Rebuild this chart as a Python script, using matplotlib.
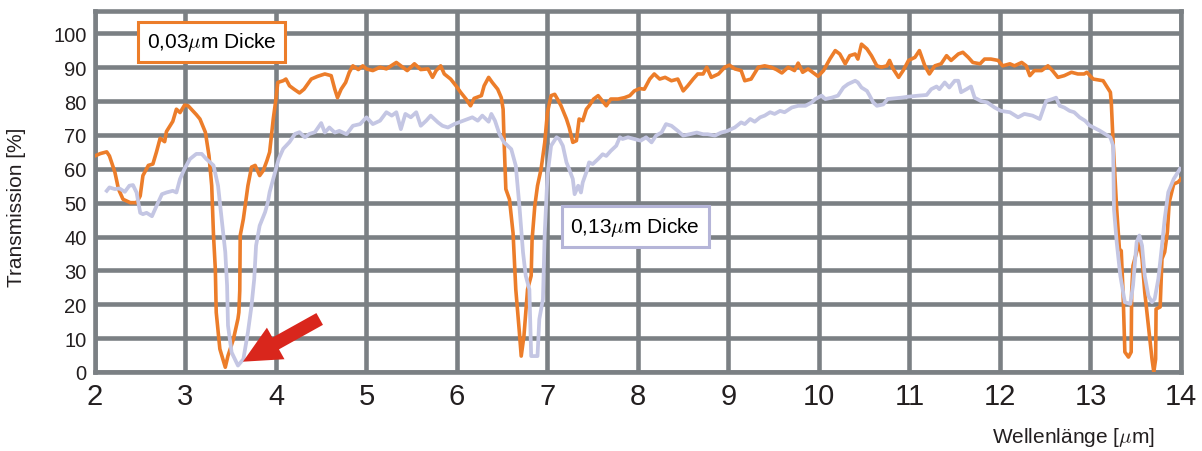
import numpy as np
import matplotlib
matplotlib.use("Agg")
import matplotlib.pyplot as plt
from matplotlib.patches import FancyArrowPatch

plt.rcParams['font.family'] = ['Liberation Sans', 'DejaVu Sans']
plt.rcParams['mathtext.fontset'] = 'cm'

# 0,03 um layer (orange)
wl_thin = [2.00, 2.06, 2.13, 2.16, 2.22, 2.26, 2.31, 2.39, 2.46, 2.50, 2.53, 2.59, 2.64, 2.68, 2.72, 2.77,
           2.79, 2.86, 2.90, 2.94, 2.99, 3.03, 3.12, 3.16, 3.22, 3.26, 3.29, 3.31, 3.33, 3.34, 3.38, 3.44,
           3.47, 3.53, 3.58, 3.59, 3.60, 3.605, 3.64, 3.69, 3.73, 3.77, 3.82, 3.86, 3.90, 3.93, 3.95, 3.97,
           4.00, 4.02, 4.08, 4.11, 4.15, 4.20, 4.26, 4.31, 4.39, 4.46, 4.54, 4.61, 4.65, 4.68, 4.72, 4.77,
           4.81, 4.85, 4.91, 4.96, 5.00, 5.07, 5.15, 5.22, 5.33, 5.38, 5.45, 5.53, 5.60, 5.68, 5.73, 5.77,
           5.82, 5.86, 5.93, 5.99, 6.04, 6.10, 6.15, 6.19, 6.27, 6.30, 6.35, 6.39, 6.45, 6.49, 6.51, 6.52,
           6.54, 6.58, 6.62, 6.65, 6.69, 6.71, 6.74, 6.78, 6.82, 6.83, 6.86, 6.89, 6.93, 6.97, 7.00, 7.04,
           7.08, 7.11, 7.15, 7.21, 7.24, 7.28, 7.32, 7.35, 7.39, 7.43, 7.46, 7.51, 7.56, 7.59, 7.65, 7.70,
           7.78, 7.85, 7.91, 7.96, 8.02, 8.07, 8.13, 8.18, 8.24, 8.30, 8.37, 8.44, 8.50, 8.55, 8.61, 8.66,
           8.72, 8.76, 8.81, 8.89, 8.96, 9.01, 9.07, 9.14, 9.18, 9.25, 9.33, 9.40, 9.47, 9.53, 9.59, 9.66,
           9.73, 9.77, 9.82, 9.88, 9.99, 10.05, 10.12, 10.18, 10.23, 10.29, 10.34, 10.40, 10.43, 10.47, 10.53,
           10.58, 10.64, 10.69, 10.75, 10.78, 10.82, 10.88, 10.93, 10.99, 11.06, 11.11, 11.17, 11.22, 11.28,
           11.35, 11.41, 11.46, 11.54, 11.59, 11.65, 11.70, 11.78, 11.83, 11.90, 11.98, 12.03, 12.11, 12.16,
           12.24, 12.29, 12.33, 12.38, 12.46, 12.53, 12.58, 12.64, 12.71, 12.79, 12.86, 12.93, 12.96, 13.03,
           13.14, 13.22, 13.23, 13.25, 13.29, 13.32, 13.34, 13.36, 13.38, 13.42, 13.45, 13.455, 13.47, 13.51,
           13.54, 13.57, 13.60, 13.64, 13.68, 13.70, 13.72, 13.725, 13.77, 13.79, 13.82, 13.85, 13.87, 13.92,
           13.97, 14.00]
tr_thin = [63.8, 64.5, 65.0, 63.8, 59.0, 54.0, 51.0, 50.0, 50.0, 52.0, 58.0, 61.0, 61.4, 65.0, 69.0, 68.0,
           71.0, 74.0, 77.6, 76.6, 78.8, 78.6, 76.0, 74.7, 70.8, 63.9, 55.0, 40.3, 30.4, 17.6, 6.8, 1.4,
           4.8, 9.7, 15.7, 17.6, 24.0, 40.3, 45.2, 55.0, 60.5, 61.0, 58.0, 59.5, 62.4, 64.9, 69.8, 74.7,
           80.6, 85.5, 86.0, 86.5, 84.5, 83.5, 82.4, 83.5, 86.5, 87.3, 88.0, 87.5, 83.5, 81.0, 83.5, 85.5,
           88.5, 90.4, 89.3, 90.4, 89.5, 89.0, 90.0, 89.5, 91.4, 90.4, 89.0, 91.0, 89.3, 89.5, 87.0, 89.0,
           90.4, 88.0, 86.5, 84.5, 82.6, 80.6, 78.6, 80.8, 81.6, 84.5, 87.0, 85.5, 83.5, 81.0, 77.6, 68.8,
           54.0, 51.0, 41.0, 24.4, 11.6, 4.7, 10.6, 24.4, 28.4, 39.0, 49.0, 55.0, 60.0, 67.8, 76.7, 81.6,
           82.0, 80.6, 78.6, 74.7, 72.2, 67.8, 68.3, 74.7, 74.2, 77.6, 78.6, 80.6, 81.6, 80.6, 78.6, 80.6,
           80.6, 81.0, 81.6, 83.0, 83.7, 83.5, 86.5, 88.0, 86.5, 87.0, 86.0, 86.5, 83.0, 84.5, 86.5, 88.0,
           88.0, 90.0, 87.0, 88.0, 90.0, 90.6, 89.5, 89.0, 86.0, 86.5, 90.0, 90.4, 90.0, 89.3, 88.3, 90.0,
           89.0, 91.2, 88.5, 89.5, 87.3, 89.0, 92.4, 94.9, 93.9, 91.0, 93.4, 93.9, 92.4, 96.8, 95.4,
           93.4, 90.4, 90.0, 90.4, 92.0, 89.5, 87.0, 89.0, 92.0, 92.9, 94.9, 90.4, 88.0, 90.4,
           91.0, 93.4, 92.0, 93.9, 94.4, 92.9, 91.4, 91.0, 92.4, 92.4, 92.0, 90.4, 91.0, 90.4,
           91.4, 90.4, 87.5, 89.0, 89.0, 90.4, 89.0, 87.0, 87.5, 88.5, 88.0, 88.0, 88.5, 86.5,
           86.0, 82.6, 79.7, 67.9, 48.0, 36.3, 35.8, 23.5, 5.9, 4.4, 5.9, 23.5, 31.4, 35.4,
           38.4, 33.4, 23.5, 13.7, 3.8, 0.0, 3.8, 18.6, 19.2, 33.4, 35.4, 41.3, 50.1, 55.5,
           56.1, 57.0]

# 0,13 um layer (lavender)
wl_thick = [2.13, 2.16, 2.22, 2.27, 2.33, 2.38, 2.42, 2.46, 2.50, 2.53, 2.57, 2.63, 2.68, 2.74, 2.79, 2.86,
            2.90, 2.94, 2.99, 3.05, 3.12, 3.18, 3.23, 3.31, 3.36, 3.40, 3.44, 3.46, 3.47, 3.51, 3.58, 3.64,
            3.69, 3.73, 3.76, 3.78, 3.82, 3.88, 3.91, 3.93, 3.97, 4.03, 4.08, 4.15, 4.21, 4.26, 4.32, 4.37,
            4.43, 4.50, 4.54, 4.59, 4.65, 4.70, 4.78, 4.85, 4.93, 5.00, 5.07, 5.15, 5.22, 5.28, 5.33, 5.38,
            5.43, 5.49, 5.55, 5.60, 5.66, 5.71, 5.79, 5.84, 5.90, 5.97, 6.04, 6.12, 6.17, 6.23, 6.28, 6.35,
            6.38, 6.42, 6.47, 6.52, 6.60, 6.65, 6.69, 6.73, 6.76, 6.80, 6.82, 6.89, 6.91, 6.95, 6.97, 7.00,
            7.04, 7.10, 7.13, 7.17, 7.21, 7.24, 7.28, 7.30, 7.34, 7.37, 7.39, 7.43, 7.46, 7.50, 7.56, 7.61,
            7.65, 7.70, 7.76, 7.80, 7.83, 7.89, 7.96, 8.03, 8.09, 8.15, 8.20, 8.26, 8.31, 8.37, 8.44, 8.50,
            8.57, 8.65, 8.72, 8.77, 8.85, 8.92, 8.99, 9.07, 9.14, 9.18, 9.24, 9.29, 9.35, 9.40, 9.46, 9.51,
            9.57, 9.62, 9.70, 9.77, 9.85, 9.92, 9.96, 10.03, 10.07, 10.14, 10.21, 10.27, 10.32, 10.40, 10.43,
            10.47, 10.53, 10.56, 10.60, 10.64, 10.71, 10.76, 10.84, 10.91, 10.99, 11.10, 11.19, 11.24, 11.30,
            11.33, 11.39, 11.44, 11.50, 11.54, 11.57, 11.63, 11.68, 11.72, 11.79, 11.86, 11.94, 12.01, 12.11,
            12.20, 12.27, 12.36, 12.44, 12.51, 12.58, 12.62, 12.66, 12.71, 12.77, 12.82, 12.88, 12.94, 12.99,
            13.10, 13.22, 13.25, 13.26, 13.29, 13.33, 13.38, 13.44, 13.47, 13.51, 13.54, 13.57, 13.60, 13.64,
            13.68, 13.71, 13.75, 13.79, 13.82, 13.86, 13.92, 13.99]
tr_thick = [53.5, 54.5, 54.0, 54.2, 53.2, 55.0, 55.2, 53.0, 47.0, 46.6, 47.0, 46.0, 49.0, 52.5, 53.0, 53.5,
            53.0, 57.0, 60.0, 62.9, 64.4, 64.4, 62.9, 61.0, 55.0, 45.2, 35.4, 25.5, 13.7, 5.8, 1.9, 3.8,
            11.7, 19.6, 27.5, 37.3, 43.2, 47.2, 50.1, 53.1, 57.0, 62.9, 65.9, 67.9, 70.3, 70.8, 69.3, 70.3,
            70.8, 73.5, 70.7, 72.2, 70.7, 71.2, 70.2, 72.7, 73.2, 75.2, 73.2, 74.2, 76.7, 75.7, 76.7, 71.7,
            76.2, 75.2, 76.7, 72.7, 74.2, 75.7, 73.7, 72.7, 72.2, 73.2, 73.9, 74.7, 75.2, 74.2, 75.7, 73.9,
            76.2, 74.2, 70.2, 67.8, 65.8, 60.9, 49.0, 35.3, 28.4, 24.4, 4.7, 4.7, 15.6, 21.5, 41.0, 58.0,
            66.8, 69.3, 68.8, 66.8, 61.9, 59.9, 57.0, 52.5, 55.0, 53.0, 56.0, 59.0, 61.9, 61.4, 62.9, 64.3,
            63.8, 65.3, 66.8, 69.3, 68.8, 69.3, 68.8, 68.3, 69.3, 67.8, 69.8, 70.7, 73.2, 72.7, 71.2, 69.8,
            70.2, 70.7, 70.2, 70.2, 69.8, 70.7, 71.2, 72.2, 73.7, 73.2, 74.7, 73.9, 75.2, 75.7, 76.7, 76.2,
            77.1, 76.7, 78.1, 78.6, 78.6, 79.6, 80.6, 81.6, 80.6, 81.0, 81.6, 84.0, 85.0, 86.0, 85.5,
            84.0, 83.0, 81.6, 79.6, 78.6, 79.0, 80.6, 80.8, 81.0, 81.3, 81.6, 81.8, 83.5, 84.3,
            83.5, 85.5, 84.0, 86.0, 86.0, 82.6, 83.5, 84.3, 81.0, 80.0, 79.6, 78.1, 77.1, 76.7,
            75.2, 76.2, 75.7, 74.7, 80.0, 80.6, 81.0, 78.6, 78.1, 77.1, 76.7, 75.2, 74.2, 72.8,
            71.3, 69.3, 66.9, 48.0, 38.3, 28.4, 20.6, 20.1, 25.5, 38.3, 40.3, 37.3, 28.4, 22.5,
            20.6, 21.6, 27.5, 37.3, 45.2, 53.1, 57.0, 60.0]

x_ticks = list(range(2, 15))
y_ticks = list(range(0, 101, 10))

orange = '#ec7d2a'
lavender = '#c4c6e3'
gridc = '#7b8084'

fig = plt.figure(figsize=(12.02, 4.52), dpi=100)
ax = fig.add_axes([0.079, 0.1748, 0.9035, 0.7987])

ax.plot(wl_thin, tr_thin, color=orange, lw=2.6, zorder=3, solid_joinstyle='round')
ax.plot(wl_thick, tr_thick, color=lavender, lw=2.7, zorder=4, solid_joinstyle='round')

ax.set_xlim(2, 14)
ax.set_ylim(0, 106.6)
ax.set_xticks(x_ticks)
ax.set_yticks(y_ticks)
ax.grid(True, color=gridc, lw=3.3, zorder=1)
ax.set_axisbelow(True)
for s in ax.spines.values():
    s.set_color(gridc)
    s.set_linewidth(3.3)
ax.tick_params(axis='both', length=0, colors='#231f20')
ax.tick_params(axis='y', labelsize=14.5, pad=6)
ax.tick_params(axis='x', labelsize=21, pad=7)

ax.set_ylabel('Transmission [%]', fontsize=15, color='#231f20')
ax.yaxis.label.set_va('center')
ax.yaxis.set_label_coords(-0.0718, 0.46)
ax.set_xlabel(r'Wellenlänge [$\mu$m]', fontsize=15, color='#231f20')
ax.xaxis.label.set_va('center')
ax.xaxis.set_label_coords(0.901, -0.18)

ax.text(3.29, 97.5, r'0,03$\mu$m Dicke', fontsize=15, ha='center', va='center', zorder=6,
        bbox=dict(boxstyle='square,pad=0.42', fc='white', ec=orange, lw=2.2))
ax.text(7.97, 43.0, r'0,13$\mu$m Dicke', fontsize=15, ha='center', va='center', zorder=6,
        bbox=dict(boxstyle='square,pad=0.42', fc='white', ec='#b5b5d8', lw=2.2))

arrow = FancyArrowPatch((4.483, 15.66), (3.635, 3.04),
                        arrowstyle='simple,head_length=27,head_width=26,tail_width=9.7',
                        mutation_scale=1, color='#d9261c', lw=0, shrinkA=0, shrinkB=0, zorder=7)
ax.add_patch(arrow)

plt.savefig('out.png', dpi=100)
